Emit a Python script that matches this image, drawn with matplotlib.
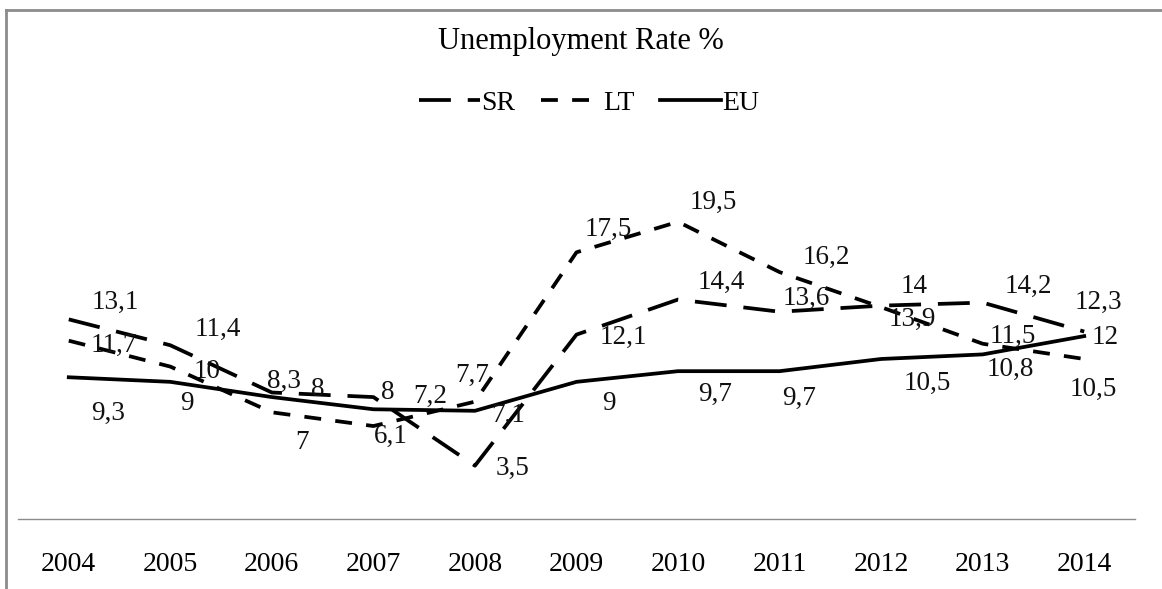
import matplotlib.pyplot as plt
from matplotlib.lines import Line2D

years = ["2004", "2005", "2006", "2007", "2008", "2009", "2010", "2011", "2012", "2013", "2014"]
sr = [13.1, 11.4, 8.3, 8, 3.5, 12.1, 14.4, 13.6, 14, 14.2, 12.3]
lt = [11.7, 10, 7, 6.1, 7.7, 17.5, 19.5, 16.2, 13.9, 11.5, 10.5]
eu = [9.3, 9, 8, 7.2, 7.1, 9, 9.7, 9.7, 10.5, 10.8, 12]

# label offsets in pixels (dx, dy), dy positive = up
sr_off = [(47, 17), (47, 16), (12, 11), (14, 5), (38, -3), (47, -3), (43, 17), (27, 13), (33, 19), (46, 16), (14, 29)]
lt_off = [(45, -5), (37, -5), (30, -30), (17, -10), (-3, 26), (32, 23), (35, 19), (47, 15), (31, -12), (30, 7), (9, -30)]
eu_off = [(39, -36), (17, -22), (46, 8), (57, 13), (33, -5), (32, -22), (37, -23), (19, -27), (46, -24), (28, -15), (21, -1)]

plt.rcParams["font.family"] = ["Liberation Serif", "DejaVu Serif"]

fig = plt.figure(figsize=(11.62, 5.89), dpi=100)
W, H = 1162, 589
ax = fig.add_axes([18 / W, 1 - 519 / H, (1135 - 18) / W, (519 - 138) / H])

x = list(range(len(years)))
ax.plot(x, sr, color="black", lw=2.7, dashes=(8.5, 4.5), label="SR")
ax.plot(x, lt, color="black", lw=2.7, dashes=(4.5, 3.8), label="LT")
ax.plot(x, eu, color="black", lw=2.7, label="EU")


def fmt(v):
    s = f"{v:g}"
    return s.replace(".", ",")


for vals, offs in ((sr, sr_off), (lt, lt_off), (eu, eu_off)):
    for i, v in enumerate(vals):
        ax.annotate(fmt(v), (i, v), xytext=offs[i], textcoords="offset pixels",
                    ha="center", va="center", fontsize=19.5, color="#111111")

ax.set_xlim(-0.5, len(years) - 0.5)
ax.set_ylim(0, 25)
ax.set_xticks(x)
ax.set_xticklabels(years, fontsize=20)
ax.tick_params(axis="x", length=0, pad=24)
ax.set_yticks([])
for side in ("top", "left", "right"):
    ax.spines[side].set_visible(False)
ax.spines["bottom"].set_color("#8c8c8c")
ax.spines["bottom"].set_linewidth(1)
ax.patch.set_visible(False)

# chart border (left and top)
fig.add_artist(Line2D([6 / W, 6 / W], [0, 1 - 10 / H], color="#8c8c8c", lw=2))
fig.add_artist(Line2D([6 / W, 1], [1 - 10 / H, 1 - 10 / H], color="#8c8c8c", lw=2))

fig.text(581 / W, 1 - 42 / H, "Unemployment Rate %", ha="center", va="center", fontsize=22)
fig.legend(loc="center", bbox_to_anchor=(589 / W, 1 - 103 / H), ncol=3, frameon=False,
           fontsize=20, handlelength=2.2, columnspacing=0.9, handletextpad=0.05)

fig.savefig("out.png", dpi=100)
